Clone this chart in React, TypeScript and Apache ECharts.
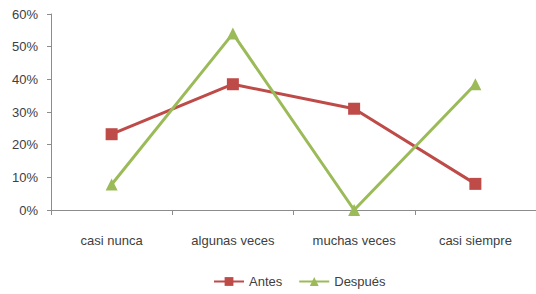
import React, { useEffect, useRef } from "react";
import * as echarts from "echarts";

const categories = ["casi nunca", "algunas veces", "muchas veces", "casi siempre"];
const antes = [23.2, 38.5, 31, 8];
const despues = [7.8, 54, 0, 38.5];
const yTicks = [0, 10, 20, 30, 40, 50, 60];

const FONT = "'Liberation Sans Narrow', 'Liberation Sans', sans-serif";

export default function App() {
  const ref = useRef<HTMLDivElement>(null);
  useEffect(() => {
    if (!ref.current) return;
    const chart = echarts.init(ref.current, null, { renderer: "svg" });
    chart.setOption({
      animation: false,
      backgroundColor: "#ffffff",
      textStyle: { fontFamily: FONT },
      grid: { left: 51, right: 0, top: 14, bottom: 84 },
      legend: {
        bottom: 1,
        left: 208,
        itemWidth: 30,
        itemHeight: 11,
        itemGap: 16,
        textStyle: { fontFamily: FONT, fontSize: 13, color: "#404040" },
        data: ["Antes", "Después"],
      },
      xAxis: {
        type: "category",
        data: categories,
        boundaryGap: true,
        axisLine: { lineStyle: { color: "#8c8c8c", width: 1 } },
        axisTick: { show: true, length: 5, lineStyle: { color: "#8c8c8c" } },
        axisLabel: { margin: 24, fontSize: 13, color: "#404040", fontFamily: FONT },
      },
      yAxis: {
        type: "value",
        min: yTicks[0],
        max: yTicks[yTicks.length - 1],
        interval: 10,
        axisLine: { show: true, lineStyle: { color: "#8c8c8c", width: 1 } },
        axisTick: { show: true, length: 4, lineStyle: { color: "#8c8c8c" } },
        splitLine: { show: false },
        axisLabel: {
          formatter: "{value}%",
          margin: 13,
          fontSize: 13,
          color: "#404040",
          fontFamily: FONT,
        },
      },
      series: [
        {
          name: "Antes",
          type: "line",
          data: antes,
          symbol: "rect",
          symbolSize: 12,
          color: "#be4b48",
          lineStyle: { width: 3, color: "#be4b48" },
          itemStyle: { color: "#be4b48" },
        },
        {
          name: "Después",
          type: "line",
          data: despues,
          symbol: "triangle",
          symbolSize: 12,
          color: "#9bbb59",
          lineStyle: { width: 3, color: "#9bbb59" },
          itemStyle: { color: "#9bbb59" },
        },
      ],
    });
    return () => chart.dispose();
  }, []);
  return <div ref={ref} style={{ width: 536, height: 294, position: "absolute", left: 0, top: 0 }} />;
}
